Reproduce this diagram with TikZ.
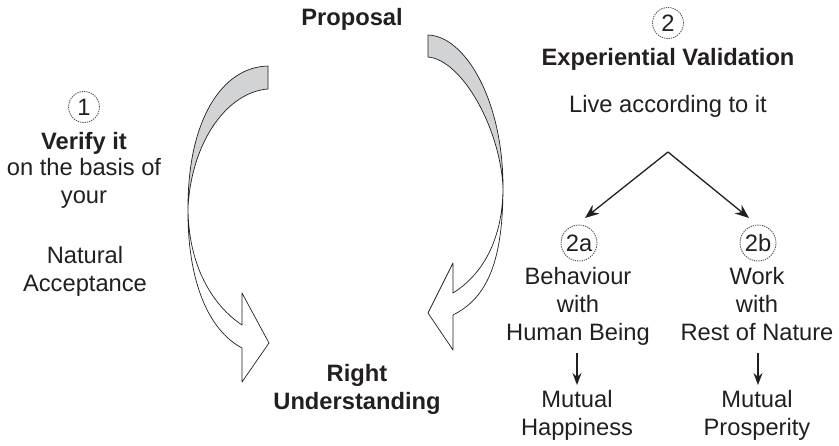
\documentclass[tikz,border=0pt]{standalone}
\usepackage{fontspec}
\setmainfont{Liberation Sans}
\usetikzlibrary{arrows.meta,calc}
\definecolor{ink}{HTML}{231F20}
\definecolor{band}{HTML}{D1D3D4}
\definecolor{numgray}{HTML}{555555}
\begin{document}
\begin{tikzpicture}[x=1pt,y=-1pt,
  lbl/.style={font=\fontsize{23.7}{27.7}\selectfont, text=ink, inner sep=0pt, anchor=base, align=center},
  lblb/.style={lbl, font=\fontsize{23.7}{27.2}\selectfont\bfseries},
  num/.style={circle, draw=numgray, dash pattern=on 1.3pt off 1pt, line width=0.9pt,
    font=\fontsize{23.7}{27.5}\selectfont, text=ink, inner sep=0pt, minimum size=#1},
  ribbon/.style={draw=ink, line width=0.7pt, line join=round},
  splitarrow/.style={draw=ink, line width=1.3pt, -{Stealth[length=14pt,width=11pt]}},
  downarrow/.style={draw=ink, line width=1.2pt, -{Stealth[length=12pt,width=9pt]}}
]
\useasboundingbox (0,0) rectangle (839,445);

% ribbon arrows
\filldraw[ribbon, fill=band] (268,66) .. controls (222,67) and (188,120) .. (188,207)
   .. controls (192,140) and (228,92) .. (268,89) -- cycle;
\filldraw[ribbon, fill=white] (188,207) .. controls (188,265) and (212,305) .. (242,325)
   -- (242,293) -- (269,343) -- (242,382) -- (242,348)
   .. controls (208,330) and (187,280) .. (188,207) -- cycle;

\filldraw[ribbon, fill=band] (428,35) .. controls (465,36) and (503,100) .. (503,187)
   .. controls (500,128) and (462,60) .. (428,57) -- cycle;
\filldraw[ribbon, fill=white] (503,187) .. controls (503,240) and (482,275) .. (453,293)
   -- (453,263) -- (428,313) -- (453,350) -- (453,315)
   .. controls (487,298) and (503,262) .. (503,187) -- cycle;

% central texts (anchor = baseline of the last line)
\node[lblb] (prop) at (352,25) {Proposal};
\node[lblb] (right) at (357,409) {Right\\Understanding};

% left column
\node[num=31pt] (c1) at (84,107) {1};
\node[lblb] (verify) at (84,149) {Verify it};
\node[lbl] (basis) at (84,203) {on the basis of\\your};
\node[lbl] (natural) at (85,291) {Natural\\Acceptance};

% right column
\node[num=31pt] (c2) at (668,23) {2};
\node[lblb] (exp) at (668,65) {Experiential Validation};
\node[lbl] (live) at (668,112) {Live according to it};

\coordinate (apex) at (668,152);
\coordinate (ea) at (585,218);
\coordinate (eb) at (749,218);
\draw[splitarrow] (apex) -- (ea);
\draw[splitarrow] (apex) -- (eb);

\node[num=36pt] (c2a) at (579,243) {2a};
\node[num=36pt] (c2b) at (758,243) {2b};

\node[lbl] (beh) at (578,340) {Behaviour\\with\\Human Being};
\node[lbl] (work) at (757,340) {Work\\with\\Rest of Nature};

\node[lbl] (mu1) at (577,435) {Mutual\\Happiness};
\node[lbl] (mu2) at (757,435) {Mutual\\Prosperity};

\coordinate (a1s) at (577,353);
\coordinate (a1e) at (577,385);
\coordinate (a2s) at (758,353);
\coordinate (a2e) at (758,385);
\draw[downarrow] (a1s) -- (a1e);
\draw[downarrow] (a2s) -- (a2e);
\end{tikzpicture}
\end{document}
